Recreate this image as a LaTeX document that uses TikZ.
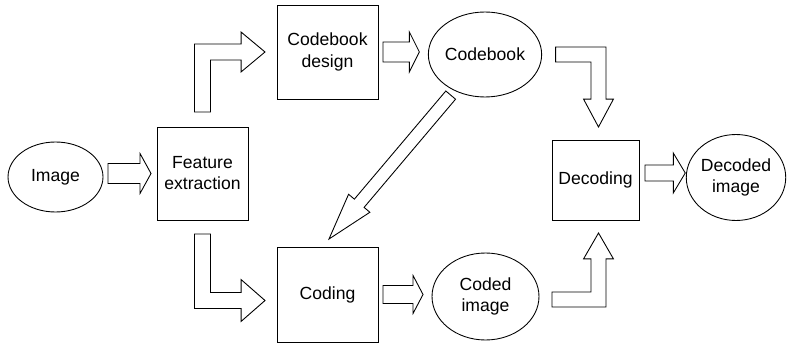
\documentclass[tikz,border=0pt]{standalone}
\usepackage{fontspec}
\setmainfont{Liberation Sans}
\usetikzlibrary{calc, shapes.geometric}
\def\pxu{0.5669pt}
\tikzstyle{stage}=[draw, rectangle, align=center, inner sep=0pt, outer sep=0pt, line width=0.5pt]
\tikzstyle{data}=[draw, ellipse, align=center, inner sep=0pt, outer sep=0pt, line width=0.5pt]
\tikzstyle{block}=[draw, fill=white, line width=0.5pt, line join=miter]

% hollow straight arrow: shaft half width, head half width, head length, tail, tip
\newcommand{\straightarrow}[5]{%
  \coordinate (hb) at ($(#5)!#3*\pxu!(#4)$);
  \draw[block] ($(#4)!#1*\pxu!90:(#5)$) -- ($(hb)!#1*\pxu!90:(#5)$)
    -- ($(hb)!#2*\pxu!90:(#5)$) -- (#5) -- ($(hb)!#2*\pxu!-90:(#5)$)
    -- ($(hb)!#1*\pxu!-90:(#5)$) -- ($(#4)!#1*\pxu!-90:(#5)$) -- cycle;}

% hollow bent arrow: shaft half width, head half width, head length, tail, corner, tip
\newcommand{\bentarrow}[6]{%
  \coordinate (hb) at ($(#6)!#3*\pxu!(#5)$);
  \coordinate (ka) at ($(#5)!#1*\pxu!-90:(#4)$);
  \coordinate (kb) at ($(#5)!#1*\pxu!90:(#6)$);
  \coordinate (kc) at ($(#5)!#1*\pxu!90:(#4)$);
  \coordinate (kd) at ($(#5)!#1*\pxu!-90:(#6)$);
  \draw[block] ($(#4)!#1*\pxu!90:(#5)$) -- ($(ka)+(kb)-(#5)$)
    -- ($(hb)!#1*\pxu!90:(#6)$) -- ($(hb)!#2*\pxu!90:(#6)$) -- (#6)
    -- ($(hb)!#2*\pxu!-90:(#6)$) -- ($(hb)!#1*\pxu!-90:(#6)$)
    -- ($(kc)+(kd)-(#5)$) -- ($(#4)!#1*\pxu!-90:(#5)$) -- cycle;}

\begin{document}
\begin{tikzpicture}[x=0.02cm, y=-0.02cm]
  \useasboundingbox (0,0) rectangle (787,344);

  % Draw the stages and the data
  \node[data, minimum width=1.9cm, minimum height=1.4cm] (img) at (55.5,177) {Image};
  \node[stage, minimum width=1.82cm, minimum height=1.86cm] (feat) at (202.5,173.5) {Feature\\extraction};
  \node[stage, minimum width=2.02cm, minimum height=1.88cm] (cbd) at (327.5,52) {Codebook\\design};
  \node[data, minimum width=2.12cm, minimum height=1.7cm] (cb) at (485,54.5) {Codebook};
  \node[stage, minimum width=2.02cm, minimum height=1.9cm] (coding) at (327.5,294.5) {Coding};
  \node[data, minimum width=2.14cm, minimum height=1.74cm] (coded) at (485.5,296.5) {Coded\\image};
  \node[stage, minimum width=1.74cm, minimum height=1.6cm] (dec) at (595.5,180) {Decoding};
  \node[data, minimum width=1.96cm, minimum height=1.72cm] (decoded) at (736,177.5) {Decoded\\image};

  % Ends of the arrows
  \coordinate (a1s) at ($(img.east |- feat.west)+(5,0)$);
  \coordinate (a1t) at ($(feat.west)+(-6,0)$);
  \coordinate (a2s) at ($(feat.north)+(0,-15)$);
  \coordinate (a2c) at (feat.north |- cbd.west);
  \coordinate (a2t) at ($(cbd.west)+(-12,0)$);
  \coordinate (a3s) at ($(cbd.east)+(5,0)$);
  \coordinate (a3t) at ($(cb.west |- cbd.east)+(-9,0)$);
  \coordinate (a4s) at ($(cb.east)+(14,0)$);
  \coordinate (a4c) at ($(dec.north |- cb.east)+(3,0)$);
  \coordinate (a4t) at ($(dec.north)+(3,-13)$);
  \coordinate (a5t) at ($(coding.north)+(1.5,-8)$);
  \coordinate (a5s) at ($(cb.center)!0.22!(a5t)$);
  \coordinate (a6s) at ($(feat.south)+(0,14)$);
  \coordinate (a6t) at ($(coding.west)+(-12,6)$);
  \coordinate (a6c) at (feat.south |- a6t);
  \coordinate (a7s) at ($(coding.east)+(5,0)$);
  \coordinate (a7t) at ($(coded.west |- coding.east)+(-9,0)$);
  \coordinate (a8s) at ($(coded.east)+(13,3)$);
  \coordinate (a8c) at ($(dec.south |- a8s)+(3,0)$);
  \coordinate (a8t) at ($(dec.south)+(3,13)$);
  \coordinate (a9s) at ($(dec.east)+(6,-7)$);
  \coordinate (a9t) at ($(decoded.west |- a9s)+(-1,0)$);

  % Connect the stages
  \straightarrow{10}{20}{11}{a1s}{a1t}
  \bentarrow{8}{20}{24}{a2s}{a2c}{a2t}
  \straightarrow{10}{20}{10}{a3s}{a3t}
  \bentarrow{7.5}{15}{28}{a4s}{a4c}{a4t}
  \straightarrow{6.4}{14}{47}{a5s}{a5t}
  \bentarrow{8}{21}{24}{a6s}{a6c}{a6t}
  \straightarrow{9}{19}{10}{a7s}{a7t}
  \bentarrow{7.5}{15}{26}{a8s}{a8c}{a8t}
  \straightarrow{8}{20}{12}{a9s}{a9t}
\end{tikzpicture}
\end{document}
